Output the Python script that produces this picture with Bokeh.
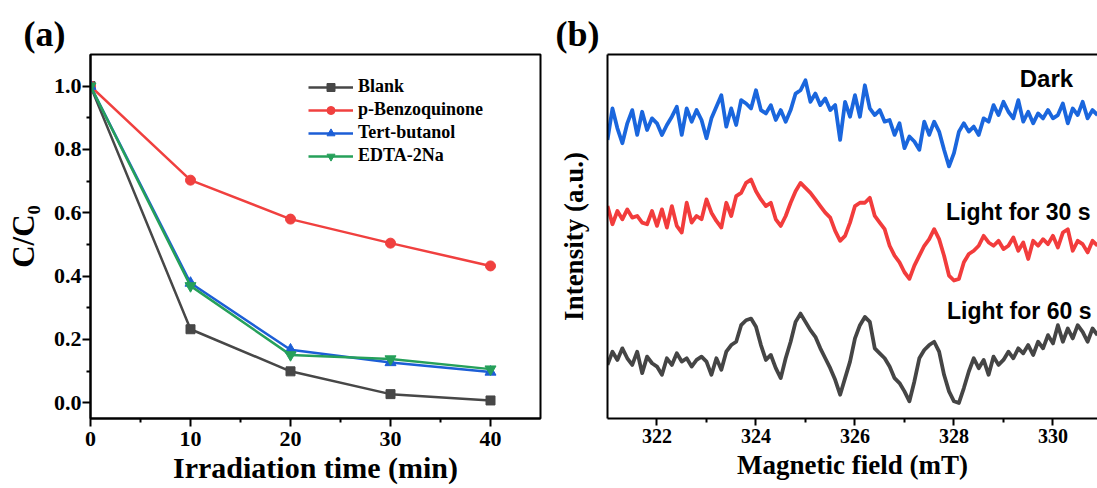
from bokeh.plotting import figure
from bokeh.models import (Range1d, FixedTicker, LinearAxis, Label, Legend, LegendItem,
                          NumeralTickFormatter, Title)
from bokeh.layouts import row
from bokeh.embed import file_html
from bokeh.resources import INLINE
import numpy as np

# ---------------- Panel (a) data ----------------
time_min = [0, 10, 20, 30, 40]
blank = [1.0, 0.232, 0.099, 0.027, 0.007]
p_benzoquinone = [1.0, 0.703, 0.580, 0.504, 0.432]
tert_butanol = [1.0, 0.378, 0.167, 0.127, 0.097]
edta_2na = [1.0, 0.369, 0.151, 0.138, 0.106]
series_names = ["Blank", "p-Benzoquinone", "Tert-butanol", "EDTA-2Na"]
x_ticks_a = [0, 10, 20, 30, 40]
y_ticks_a = [0.0, 0.2, 0.4, 0.6, 0.8, 1.0]

# ---------------- Panel (b) data ----------------
field_mT = np.round(np.arange(321.0, 330.95, 0.1), 1)
dark = [86, 95.5, 89.5, 85, 91, 95, 87.5, 94.5, 89, 92.5, 91, 87.5, 90.5, 93, 96, 87.5, 95.5, 91.5, 95, 92,
        86.5, 92.5, 96, 99.5, 90, 95.5, 90.5, 98, 97, 95.5, 101, 95, 94,
        96.5, 92, 95, 91.5, 95, 100, 101, 104, 97.5, 100, 96.5, 98.5, 95, 96.5, 86, 97.5, 93, 99.5, 93, 102.5,
        95.5, 93.5, 95, 91.5, 92, 87.5, 91, 83.5, 87, 85.5, 83, 91.5, 87.5,
        91.5, 88.5, 83, 78, 82, 88.5, 91, 88.5, 90, 87.5, 92.5, 91.5, 96.5, 93.5, 97.5, 94.5, 92.5, 98, 91.5,
        94.5, 91, 94, 92.5, 95, 92.5, 93.5, 97, 91, 95.5, 93.5, 97.5, 92.5, 95, 93.5]
light_30s = [66, 60.5, 64.5, 62, 65, 62.5, 63, 61, 60.5, 64.5, 60, 65, 59.5, 66, 60, 58, 67, 61, 63, 62,
             68, 64, 61.5, 59.5, 67, 63, 69, 70, 73, 74, 70.5, 68, 66,
             67, 62, 60, 63, 67, 70.5, 73, 71.5, 70, 68, 66, 64, 62.5, 58.5, 55.5, 57, 61, 66, 67, 67,
             68.5, 63, 61, 59, 54, 51, 49, 46, 44, 48, 51, 54, 56,
             59, 56, 51, 45, 43.5, 44, 49, 51.5, 52.5, 54, 57, 55, 54, 55.5, 53, 54, 56.5, 52.5, 55, 50,
             55.5, 54, 56, 54.5, 57, 53.5, 58, 59, 52.5, 55.5, 54.5, 52, 55.5, 54]
light_60s = [18, 22, 19.5, 23, 20, 18, 22, 15.5, 20.5, 18.5, 17.5, 15, 20, 18, 21.5, 19, 20, 17.5, 19.5, 20.5,
             19, 15, 20, 16.5, 22, 24, 25, 30, 31.5, 32, 29.5, 24, 19.5,
             21, 17, 14, 20, 25, 31, 33.5, 31, 28.5, 26.5, 23, 20, 17, 13.5, 9, 14, 19, 26, 30, 32.5,
             31, 23, 21.5, 20, 17.5, 14, 12.5, 10, 7, 13, 20, 22.5, 24,
             25, 22, 15, 10, 7, 6.5, 11, 16, 20, 17, 19.5, 15, 20.5, 18, 19.5, 22, 20, 23, 21.5, 24,
             21, 25, 23, 27, 24.5, 30, 25, 29, 26, 30, 28, 25, 29, 27]
trace_names = ["Dark", "Light for 30 s", "Light for 60 s"]
x_ticks_b = [322, 324, 326, 328, 330]

SERIF = "Liberation Serif"
SANS = "Liberation Sans"


def style_axis(ax, tick_size="20px", standoff=3, tick_out=7):
    ax.axis_line_width = 2
    ax.axis_line_color = "black"
    ax.major_tick_line_width = 2
    ax.minor_tick_line_width = 2
    ax.major_tick_line_color = "black"
    ax.minor_tick_line_color = "black"
    ax.major_tick_in = 0
    ax.major_tick_out = tick_out
    ax.minor_tick_in = 0
    ax.minor_tick_out = 4
    ax.major_label_text_font = SERIF
    ax.major_label_text_font_style = "bold"
    ax.major_label_text_font_size = tick_size
    ax.major_label_text_color = "black"
    ax.major_label_standoff = standoff
    ax.axis_label_text_font = SERIF
    ax.axis_label_text_font_style = "bold"
    ax.axis_label_text_color = "black"


# ---------------- Figure (a) ----------------
pa = figure(width=550, height=486, min_border_left=90, min_border_right=10,
            min_border_top=54, min_border_bottom=68,
            x_range=Range1d(0, 45), y_range=Range1d(-0.05, 1.10),
            output_backend="svg", toolbar_location=None)
pa.xgrid.visible = False
pa.ygrid.visible = False
pa.outline_line_color = "black"
pa.outline_line_width = 2
pa.outline_line_alpha = 1.0
style_axis(pa.xaxis[0], tick_size="22px", standoff=5, tick_out=8)
style_axis(pa.yaxis[0], tick_size="22px", standoff=1, tick_out=8)
pa.xaxis[0].ticker = FixedTicker(ticks=x_ticks_a, minor_ticks=[5, 15, 25, 35])
pa.yaxis[0].ticker = FixedTicker(ticks=y_ticks_a, minor_ticks=[0.1, 0.3, 0.5, 0.7, 0.9])
pa.yaxis[0].formatter = NumeralTickFormatter(format="0.0")
pa.xaxis[0].axis_label = "Irradiation time (min)"
pa.yaxis[0].axis_label = "C/C\u2080"
pa.xaxis[0].axis_label_text_font_size = "30px"
pa.yaxis[0].axis_label_text_font_size = "31px"
pa.xaxis[0].axis_label_standoff = 2
pa.yaxis[0].axis_label_standoff = 10

colors_a = ["#474747", "#f0403f", "#1c5ed6", "#26a05a"]
markers_a = ["square", "circle", "triangle", "inverted_triangle"]
sizes_a = [9, 10, 11, 11]
items = []
for name, ys, c, m, s in zip(series_names, [blank, p_benzoquinone, tert_butanol, edta_2na],
                             colors_a, markers_a, sizes_a):
    ln = pa.line(time_min, ys, line_color=c, line_width=2.5)
    sc = pa.scatter(time_min, ys, marker=m, size=s, fill_color=c, line_color=c)
    items.append(LegendItem(label=name, renderers=[ln, sc]))

legend = Legend(items=items, location=(218, 252), background_fill_alpha=0,
                border_line_color=None, label_text_font=SERIF, label_text_font_style="bold",
                label_text_font_size="18px", label_text_color="black",
                glyph_width=45, glyph_height=20, label_height=20,
                spacing=2, padding=0, margin=0, label_standoff=5)
pa.add_layout(legend)

pa.add_layout(Title(text="(a)", align="left", offset=-67, text_font=SERIF, text_color="black",
                    text_font_style="bold", text_font_size="36px", standoff=2), "above")

# ---------------- Figure (b) ----------------
pb = figure(width=547, height=486, min_border_left=57, min_border_right=0,
            min_border_top=54, min_border_bottom=65,
            x_range=Range1d(321.0, 330.9), y_range=Range1d(1.8, 111.8),
            output_backend="svg", toolbar_location=None)
pb.xgrid.visible = False
pb.ygrid.visible = False
pb.outline_line_color = None
style_axis(pb.xaxis[0], tick_size="20px", standoff=3, tick_out=7)
style_axis(pb.yaxis[0], tick_size="20px", standoff=0, tick_out=0)
pb.xaxis[0].ticker = FixedTicker(ticks=x_ticks_b, minor_ticks=[323, 325, 327, 329])
pb.yaxis[0].ticker = FixedTicker(ticks=[], minor_ticks=[])
pb.xaxis[0].axis_label = "Magnetic field (mT)"
pb.yaxis[0].axis_label = "Intensity (a.u.)"
pb.xaxis[0].axis_label_text_font_size = "27px"
pb.yaxis[0].axis_label_text_font_size = "27px"
pb.xaxis[0].axis_label_standoff = 4
pb.yaxis[0].axis_label_standoff = 19

top_axis = LinearAxis(ticker=FixedTicker(ticks=[], minor_ticks=[]), axis_line_width=2,
                      axis_line_color="black", major_tick_line_color=None,
                      minor_tick_line_color=None, major_label_text_font_size="0px",
                      major_tick_out=0, major_label_standoff=0)
pb.add_layout(top_axis, "above")

colors_b = ["#1a66dd", "#f23c3c", "#454545"]
for ys, c in zip([dark, light_30s, light_60s], colors_b):
    pb.line(field_mT, ys, line_color=c, line_width=3.8, line_join="round")

label_pos = [(329.33, 104.6), (327.84, 64.1), (327.86, 34.4)]
label_sizes = ["24px", "23px", "23px"]
for name, (lx, ly), fs in zip(trace_names, label_pos, label_sizes):
    pb.add_layout(Label(x=lx, y=ly, text=name, text_font=SANS, text_font_style="bold",
                        text_color="black", text_font_size=fs, text_baseline="middle",
                        text_align="left"))

pb.add_layout(Title(text="(b)", align="left", offset=-52, text_font=SERIF, text_color="black",
                    text_font_style="bold", text_font_size="36px", standoff=2), "above")

layout = row(pa, pb)
open("out.html", "w").write(file_html(layout, INLINE))
